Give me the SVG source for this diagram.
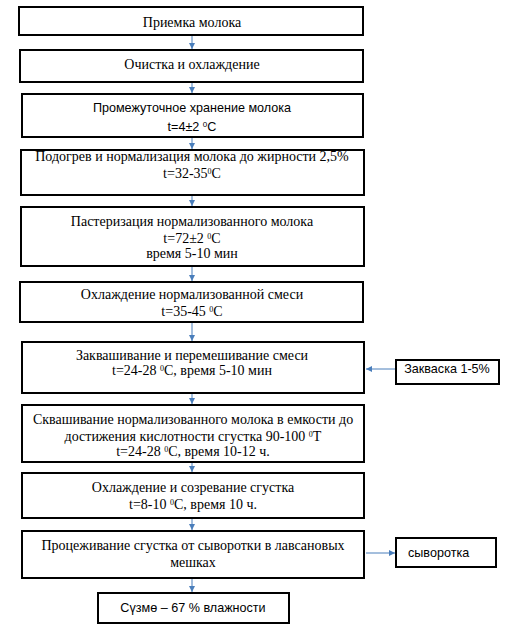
<svg xmlns="http://www.w3.org/2000/svg" width="510" height="634" viewBox="0 0 510 634">
<style>
.b{fill:#fff;stroke:#000;stroke-width:2}
.s{font-family:'Liberation Serif','DejaVu Serif',serif;font-size:14px;fill:#000;text-anchor:middle}
.a{font-family:'Liberation Sans',Arial,sans-serif;font-size:12.6px;fill:#000;text-anchor:middle}
.l{text-anchor:start}
.sup{font-size:8px;baseline-shift:super}
.c{stroke:#4a7ebb;stroke-width:1;fill:none;marker-end:url(#ah)}
</style>
<defs>
<marker id="ah" viewBox="0 0 10 10" refX="10" refY="5" markerWidth="6" markerHeight="6" markerUnits="userSpaceOnUse" orient="auto">
<path d="M0,0 L10,5 L0,10 z" fill="#4a7ebb"/>
</marker>
</defs>
<rect width="510" height="634" fill="#fff"/>
<g id="connectors">
<line class="c" x1="192" y1="35" x2="192" y2="49"/>
<line class="c" x1="192" y1="82" x2="192" y2="93"/>
<line class="c" x1="192" y1="137" x2="192" y2="149"/>
<line class="c" x1="192" y1="195" x2="192" y2="206"/>
<line class="c" x1="192" y1="266" x2="192" y2="281"/>
<line class="c" x1="192" y1="322" x2="192" y2="341"/>
<line class="c" x1="192" y1="393" x2="192" y2="404"/>
<line class="c" x1="192" y1="462" x2="192" y2="472"/>
<line class="c" x1="192" y1="518" x2="192" y2="530"/>
<line class="c" x1="192" y1="578" x2="192" y2="592"/>
<line class="c" x1="396" y1="369" x2="366" y2="369"/>
<line class="c" x1="366" y1="553" x2="395" y2="553"/>
</g>
<g id="n1"><rect class="b" x="19" y="7" width="344" height="28"/><text class="s" x="192" y="27">Приемка молока</text></g>
<g id="n2"><rect class="b" x="20" y="50" width="343" height="32"/><text class="s" x="192" y="69">Очистка и охлаждение</text></g>
<g id="n3"><rect class="b" x="22" y="94" width="341" height="43"/><text class="a" x="192" y="112">Промежуточное хранение молока</text><text class="a" x="192" y="131">t=4±2 <tspan class="sup">0</tspan>C</text></g>
<g id="n4"><rect class="b" x="21" y="150" width="343" height="45"/><text class="s" x="192" y="161">Подогрев и нормализация молока до жирности 2,5%</text><text class="s" x="192" y="178">t=32-35<tspan class="sup">0</tspan>C</text></g>
<g id="n5"><rect class="b" x="21" y="207" width="343" height="59"/><text class="s" x="192" y="226">Пастеризация нормализованного молока</text><text class="s" x="192" y="243">t=72±2 <tspan class="sup">0</tspan>C</text><text class="s" x="192" y="258">время 5-10 мин</text></g>
<g id="n6"><rect class="b" x="20" y="282" width="343" height="40"/><text class="s" x="192" y="299">Охлаждение нормализованной смеси</text><text class="s" x="192" y="316">t=35-45 <tspan class="sup">0</tspan>C</text></g>
<g id="n7"><rect class="b" x="22" y="342" width="342" height="51"/><text class="s" x="192" y="360">Заквашивание и перемешивание смеси</text><text class="s" x="192" y="375">t=24-28 <tspan class="sup">0</tspan>C, время 5-10 мин</text></g>
<g id="n7b"><rect class="b" x="396" y="360" width="103" height="24" stroke-width="1.5"/><text class="a" x="447" y="373">Закваска 1-5%</text></g>
<g id="n8"><rect class="b" x="22" y="405" width="342" height="57"/><text class="s" x="193" y="424">Сквашивание нормализованного молока в емкости до</text><text class="s" x="193" y="441">достижения кислотности сгустка 90-100 <tspan class="sup">0</tspan>T</text><text class="s" x="193" y="456">t=24-28 <tspan class="sup">0</tspan>C, время 10-12 ч.</text></g>
<g id="n9"><rect class="b" x="22" y="473" width="342" height="45"/><text class="s" x="193" y="492">Охлаждение и созревание сгустка</text><text class="s" x="193" y="509">t=8-10 <tspan class="sup">0</tspan>C, время 10 ч.</text></g>
<g id="n10"><rect class="b" x="22" y="531" width="342" height="47"/><text class="s" x="193" y="550">Процеживание сгустка от сыворотки в лавсановых</text><text class="s" x="193" y="567">мешках</text></g>
<g id="n10b"><rect class="b" x="396" y="538" width="100" height="29" stroke-width="1.5"/><text class="a l" x="408" y="557">сыворотка</text></g>
<g id="n11"><rect class="b" x="98" y="593" width="191" height="30"/><text class="a" x="193" y="612">Сүзмө – 67 % влажности</text></g>
</svg>
